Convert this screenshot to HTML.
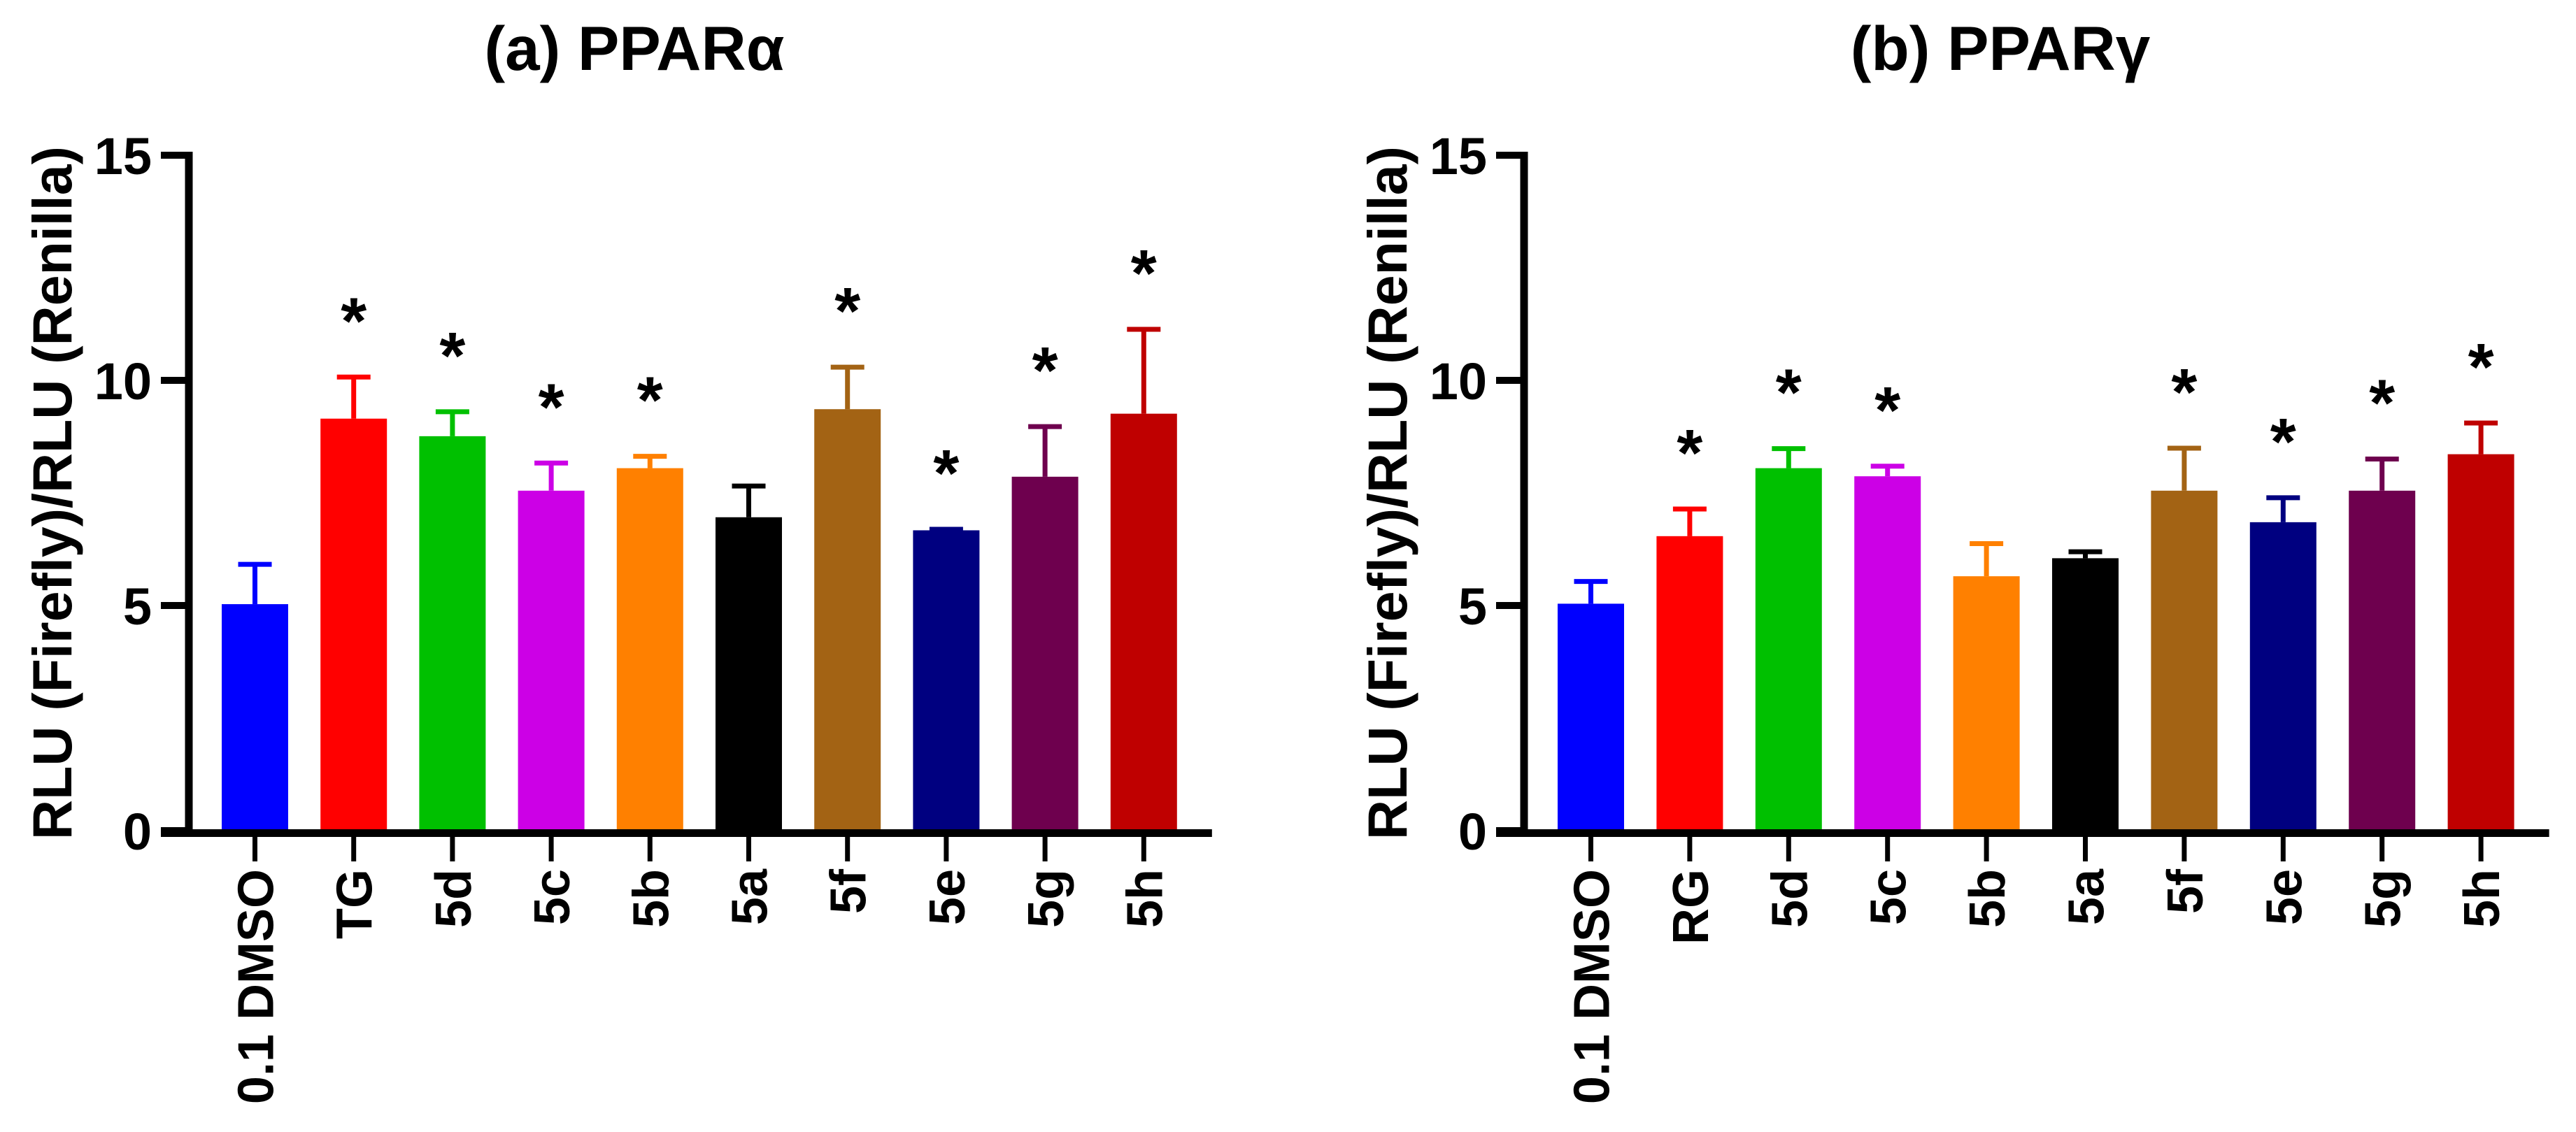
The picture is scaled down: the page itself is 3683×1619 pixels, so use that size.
<!DOCTYPE html>
<html><head><meta charset="utf-8"><style>
html,body{margin:0;padding:0;background:#fff;}
svg{display:block;font-family:"Liberation Sans",Arial,sans-serif;font-weight:bold;}
</style></head><body>
<svg id="chart" width="3683" height="1619" viewBox="0 0 3683 1619" xmlns="http://www.w3.org/2000/svg"></svg>
<script>
const colors = ["#0000ff","#ff0000","#00c000","#cc00e6","#ff8000","#000000","#a36314","#000080","#6e004e","#bf0000"];
const categoriesA = ["0.1 DMSO","TG","5d","5c","5b","5a","5f","5e","5g","5h"];
const valuesA = [5.03,9.15,8.76,7.55,8.05,6.96,9.36,6.67,7.86,9.26];
const errorsA = [5.96,10.12,9.35,8.21,8.36,7.70,10.34,6.74,9.02,11.18];
const starsA = [false,true,true,true,true,false,true,true,true,true];
const categoriesB = ["0.1 DMSO","RG","5d","5c","5b","5a","5f","5e","5g","5h"];
const valuesB = [5.04,6.54,8.05,7.87,5.65,6.05,7.55,6.85,7.55,8.36];
const errorsB = [5.58,7.19,8.53,8.14,6.42,6.24,8.54,7.44,8.30,9.10];
const starsB = [false,true,true,true,false,false,true,true,true,true];
const yTicks = [0,5,10,15];

const NS="http://www.w3.org/2000/svg";
const svg=document.getElementById('chart');
function mk(tag,attrs,parent){const e=document.createElementNS(NS,tag);for(const k in attrs)e.setAttribute(k,attrs[k]);(parent||svg).appendChild(e);return e;}

function panel(id,title,titleX,axisX,firstLeft,spacing,cats,vals,errs,stars){
  const g=mk('g',{});
  
  
  const y0=1188, yTop=222, ymax=15;
  const yS=v=>y0-(v/ymax)*(y0-yTop);
  const barW=95;
  const xC=i=>firstLeft+barW/2+i*spacing;
  const axisEnd=firstLeft+(cats.length-1)*spacing+barW+50;
  const t=mk('text',{x:titleX,y:100,'font-size':89,'text-anchor':'middle'},g);
  t.textContent=title;
  
  
  const yt=mk('text',{x:0,y:0,'font-size':79,'text-anchor':'middle',transform:`translate(${axisX-168},${(y0+yTop)/2}) rotate(-90)`},g);
  yt.textContent="RLU (Firefly)/RLU (Renilla)";
  
  
  cats.forEach((c,i)=>{
    const xc=xC(i);
    const top=yS(vals[i]), et=yS(errs[i]);
    const el=mk('line',{x1:xc,x2:xc,y1:top,y2:et,stroke:colors[i],'stroke-width':7},g);
    
    
    const cap=mk('line',{x1:xc-24,x2:xc+24,y1:et+3,y2:et+3,stroke:colors[i],'stroke-width':7},g);
    
    
    const r=mk('rect',{x:xc-barW/2,y:top,width:barW,height:y0-top,fill:colors[i]},g);
    
    
    if(stars[i]){
      const s=mk('text',{x:xc,y:et-45,'font-size':95,'text-anchor':'middle'},g);
      s.textContent='*';
      
      
    }
    const tk=mk('line',{x1:xc,x2:xc,y1:1190,y2:1232,stroke:'#000','stroke-width':7},g);
    
    
    const lb=mk('text',{x:0,y:0,'font-size':72,'text-anchor':'end',transform:`translate(${xc+26},1243) rotate(-90)`},g);
    lb.textContent=c;
    
    
  });
  const ya=mk('line',{x1:axisX,x2:axisX,y1:yTop-5,y2:y0+5,stroke:'#000','stroke-width':11},g);
  
  
  const xa=mk('rect',{x:axisX-40,y:1186,width:axisEnd-(axisX-40),height:11,fill:'#000'},g);
  
  
  yTicks.forEach(v=>{
    const y=yS(v);
    const tl=mk('line',{x1:axisX-40,x2:axisX,y1:y,y2:y,stroke:'#000','stroke-width':10},g);
    
    
    const tx=mk('text',{x:axisX-53,y:y+27,'font-size':74,'text-anchor':'end'},g);
    tx.textContent=v;
    
    
  });
}
panel('panel-ppar-alpha','(a) PPARα',907,270,317,141.2,categoriesA,valuesA,errorsA,starsA);
panel('panel-ppar-gamma','(b) PPARγ',2860,2179,2227,141.4,categoriesB,valuesB,errorsB,starsB);
</script>
</body></html>
